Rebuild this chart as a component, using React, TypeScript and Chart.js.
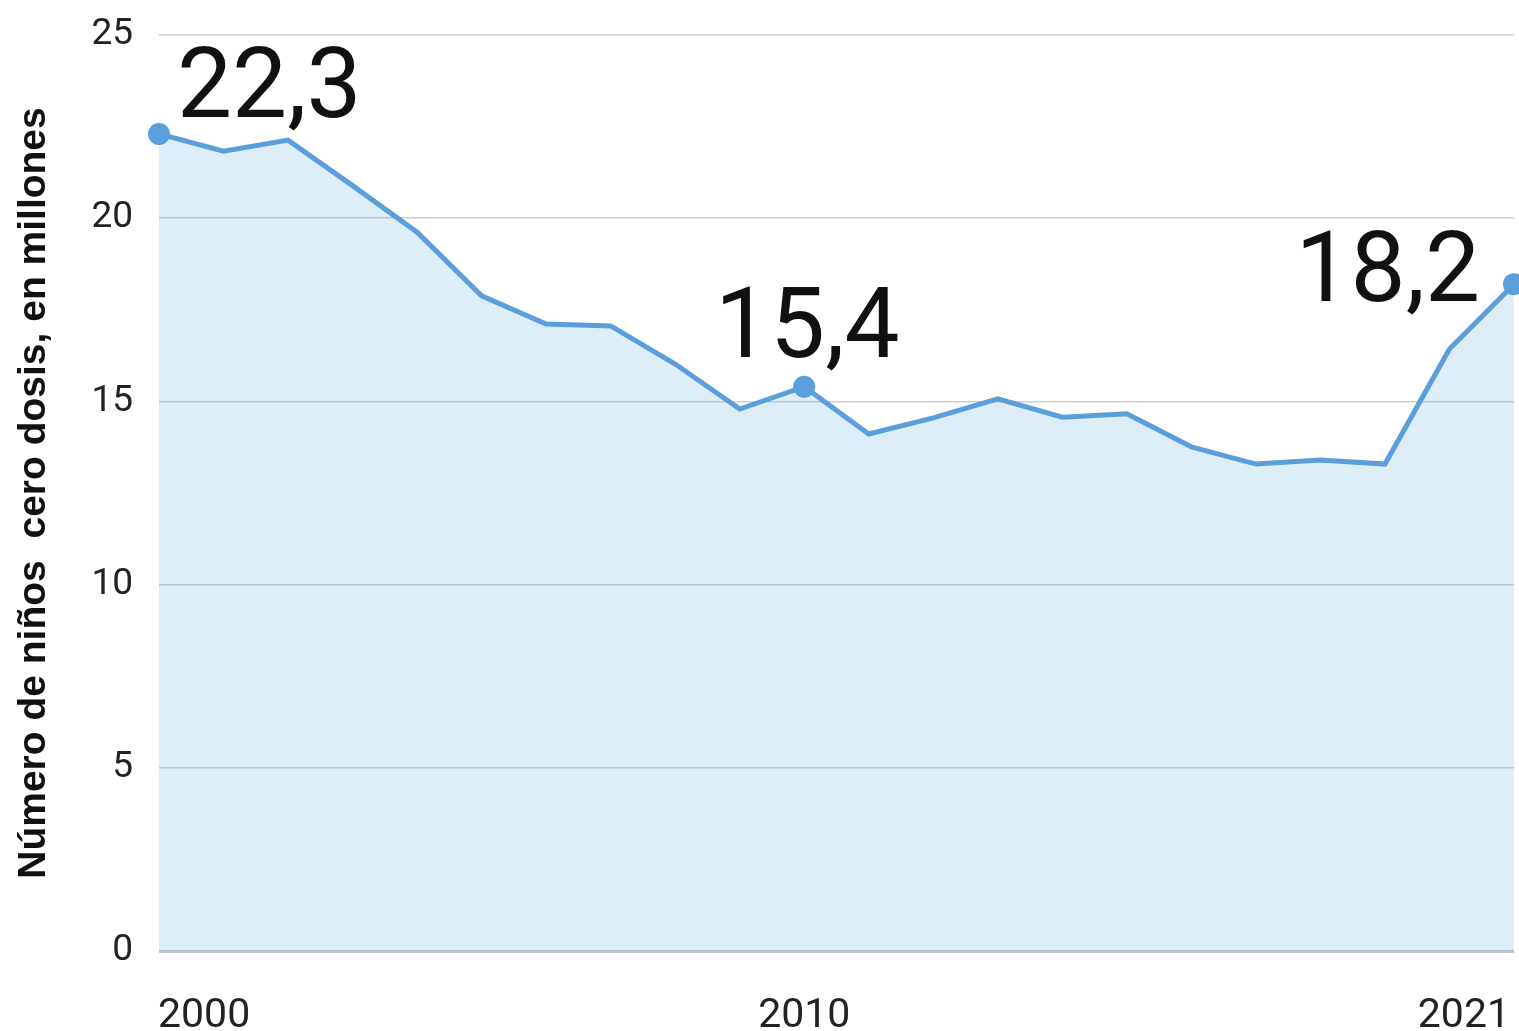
import React, { useEffect, useRef } from "react";
import { Chart, registerables } from "chart.js";

Chart.register(...registerables);

const years = [
  "2000", "2001", "2002", "2003", "2004", "2005", "2006", "2007", "2008", "2009", "2010",
  "2011", "2012", "2013", "2014", "2015", "2016", "2017", "2018", "2019", "2020", "2021",
];
const values = [
  22.3, 21.83, 22.13, 20.89, 19.62, 17.88, 17.11, 17.06, 16.02, 14.79, 15.4,
  14.11, 14.55, 15.07, 14.57, 14.66, 13.76, 13.29, 13.4, 13.29, 16.43, 18.2,
];
const highlightYears = ["2000", "2010", "2021"];
const xTickLabels = ["2000", "2010", "2021"];
const yMin = 0;
const yMax = 25;
const yStep = 5;
const yTitle = "Número de niños  cero dosis, en millones";

const LINE = "#5a9fdc";

// label placement styles (per highlighted year)
const labelStyle: Record<string, { align: CanvasTextAlign; dx: number; dy: number }> = {
  "2000": { align: "left", dx: 18, dy: -17 },
  "2010": { align: "center", dx: 3, dy: -30 },
  "2021": { align: "right", dx: -34, dy: 17 },
};
const xLabelAlign: Record<string, CanvasTextAlign> = {
  "2000": "left",
  "2010": "center",
  "2021": "right",
};

const fmt = (v: number) => v.toFixed(1).replace(".", ",");

const overlayPlugin = {
  id: "overlay",
  afterDatasetsDraw(chart: any) {
    const { ctx } = chart;
    const xs = chart.scales.x;
    const ys = chart.scales.y;
    ctx.save();
    // value labels
    ctx.fillStyle = "#111";
    ctx.font = "400 98px Roboto";
    ctx.textBaseline = "alphabetic";
    highlightYears.forEach((yr) => {
      const i = years.indexOf(yr);
      const px = xs.getPixelForValue(i);
      const py = ys.getPixelForValue(values[i]);
      const st = labelStyle[yr];
      ctx.textAlign = st.align;
      ctx.fillText(fmt(values[i]), px + st.dx, py + st.dy);
    });
    // x labels
    ctx.fillStyle = "#222";
    ctx.font = "400 41px Roboto";
    xTickLabels.forEach((yr) => {
      const i = years.indexOf(yr);
      const px = xs.getPixelForValue(i);
      ctx.textAlign = xLabelAlign[yr];
      const dx = yr === "2000" ? -1 : yr === "2021" ? -4 : 0;
      ctx.fillText(yr, px + dx, chart.chartArea.bottom + 76);
    });
    // y title
    ctx.translate(45, 493);
    ctx.rotate(-Math.PI / 2);
    ctx.fillStyle = "#111";
    ctx.font = "700 39px 'Liberation Sans'";
    ctx.textAlign = "center";
    ctx.textBaseline = "alphabetic";
    ctx.fillText(yTitle, 0, 0);
    ctx.restore();
  },
};

export default function App() {
  const ref = useRef<HTMLCanvasElement | null>(null);
  useEffect(() => {
    if (!ref.current) return;
    const chart = new Chart(ref.current, {
      type: "line",
      data: {
        labels: years,
        datasets: [
          {
            data: values,
            borderColor: LINE,
            borderWidth: 5,
            backgroundColor: "rgba(85,170,225,0.2)",
            fill: "origin",
            tension: 0,
            clip: false as any,
            pointRadius: years.map((y) => (highlightYears.includes(y) ? 11 : 0)),
            pointHoverRadius: years.map((y) => (highlightYears.includes(y) ? 11 : 0)),
            pointBackgroundColor: LINE,
            pointBorderWidth: 0,
          },
        ],
      },
      options: {
        animation: false,
        responsive: true,
        maintainAspectRatio: false,
        layout: { autoPadding: false, padding: { top: 35, right: 5, bottom: 80, left: 0 } },
        plugins: { legend: { display: false }, tooltip: { enabled: false } },
        scales: {
          x: { display: false },
          y: {
            min: yMin,
            max: yMax,
            afterFit: (s: any) => {
              s.width = 159;
              s.paddingTop = 0;
              s.paddingBottom = 0;
            },
            border: { display: false },
            grid: {
              drawTicks: false,
              color: (c: any) => (c.tick && c.tick.value === 0 ? "#c4c4c4" : "#cfcfcf"),
              lineWidth: (c: any) => (c.tick && c.tick.value === 0 ? 3 : 1.5),
            },
            ticks: {
              stepSize: yStep,
              padding: 26,
              color: "#222",
              font: { family: "Roboto", size: 37 },
            },
          },
        },
      },
      plugins: [overlayPlugin],
    });
    return () => chart.destroy();
  }, []);
  return (
    <div style={{ position: "absolute", left: 0, top: 0, width: 1519, height: 1031, background: "#fff" }}>
      <canvas ref={ref} />
    </div>
  );
}
